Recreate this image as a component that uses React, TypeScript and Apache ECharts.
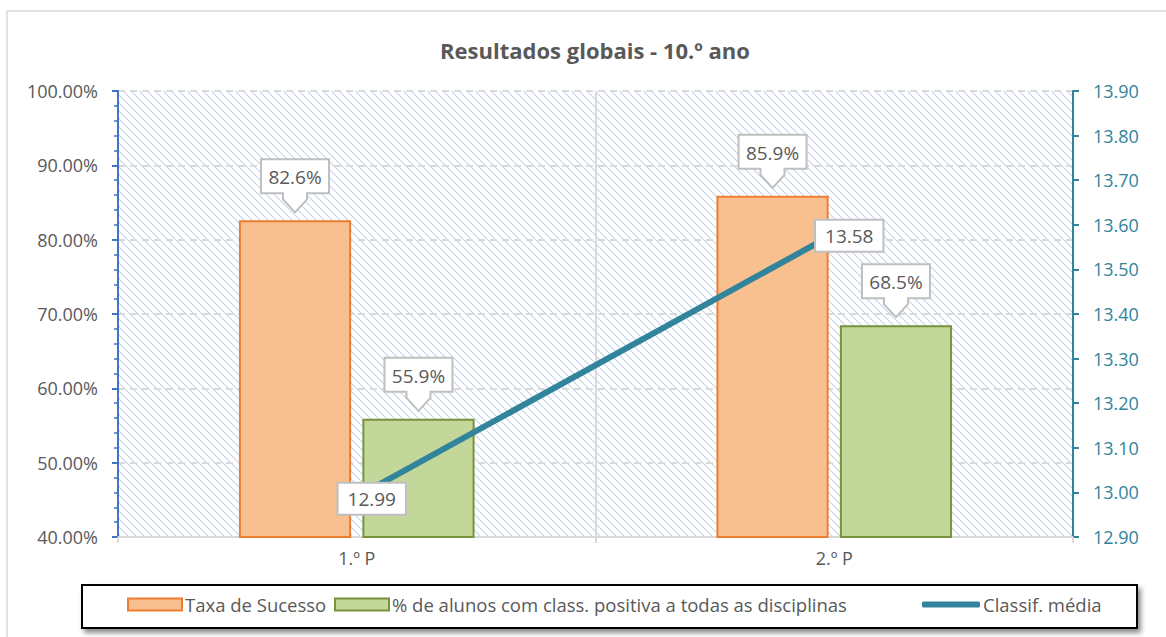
import React, { useEffect, useRef } from "react";
import * as echarts from "echarts";

const categories = ["1.º P", "2.º P"];
const successRate = [82.6, 85.9];
const positiveAll = [55.9, 68.5];
const avgGrade = [12.99, 13.58];

const seriesNames = [
  "Taxa de Sucesso",
  "% de alunos com class. positiva a todas as disciplinas",
  "Classif. média",
];

const FONT = "'Open Sans', 'Noto Sans', sans-serif";
const TXT = "#595959";
const TEAL = "#31849b";

function makeHatch(): string {
  const s = 8;
  const c = document.createElement("canvas");
  c.width = s;
  c.height = s;
  const ctx = c.getContext("2d")!;
  ctx.fillStyle = "#ffffff";
  ctx.fillRect(0, 0, s, s);
  ctx.strokeStyle = "#c3d4ee";
  ctx.lineWidth = 1.1;
  for (const x0 of [-s, 0, s]) {
    ctx.beginPath();
    ctx.moveTo(x0, 0);
    ctx.lineTo(x0 + s, s);
    ctx.stroke();
  }
  return c.toDataURL();
}

const BAR_W = 0.235;
const BAR_GAP = 0.1;
const total = 2 * BAR_W + BAR_W * BAR_GAP;
const offsets = [-total / 2 + BAR_W / 2, total / 2 - BAR_W / 2];

function calloutRender(off: number) {
  return (params: any, api: any) => {
    const p = api.coord([api.value(0), api.value(1)]);
    const band = api.size([1, 0])[0];
    const cx = p[0] + off * band;
    const tip = p[1] - 8;
    const bottom = tip - 19;
    const top = bottom - 34;
    const L = cx - 34;
    const R = cx + 34;
    const txt = api.value(1).toFixed(1) + "%";
    return {
      type: "group",
      children: [
        {
          type: "polygon",
          shape: {
            points: [
              [L, top],
              [R, top],
              [R, bottom],
              [cx + 12, bottom],
              [cx + 12, bottom + 6],
              [cx, tip],
              [cx - 12, bottom + 6],
              [cx - 12, bottom],
              [L, bottom],
            ],
          },
          style: { fill: "#ffffff", stroke: "#bfbfbf", lineWidth: 2 },
        },
        {
          type: "text",
          style: {
            text: txt,
            x: cx,
            y: (top + bottom) / 2 + 1,
            align: "center",
            verticalAlign: "middle",
            fontSize: 19,
            fontFamily: FONT,
            fill: TXT,
          },
        },
      ],
    };
  };
}

const legendBase = {
  top: 595,
  padding: 0,
  itemWidth: 54,
  itemHeight: 12,
  z: 10,
  textStyle: { fontSize: 18.5, color: TXT, fontFamily: FONT, padding: [0, 0, 0, -2] },
};

export default function App() {
  const ref = useRef<HTMLDivElement>(null);
  useEffect(() => {
    const chart = echarts.init(ref.current!, null, { renderer: "svg" });
    const hatch = makeHatch();
    const option: any = {
      animation: false,
      backgroundColor: "#ffffff",
      grid: {
        left: 118,
        right: 93,
        top: 91,
        bottom: 100,
        show: true,
        borderWidth: 0,
        backgroundColor: { image: hatch, repeat: "repeat" },
      },
      graphic: [
        {
          type: "rect",
          shape: { x: 7, y: 11, width: 1300, height: 800 },
          style: { fill: "none", stroke: "#d9d9d9", lineWidth: 1.5 },
          z: -1,
          silent: true,
        },
        {
          type: "text",
          x: 595,
          y: 50,
          style: {
            text: "Resultados globais - 10.º ano",
            align: "center",
            verticalAlign: "middle",
            fontSize: 22,
            fontWeight: "bold",
            fontFamily: FONT,
            fill: TXT,
          },
        },
        {
          type: "rect",
          shape: { x: 82, y: 585, width: 1055, height: 43 },
          style: {
            fill: "#ffffff",
            stroke: "#000000",
            lineWidth: 2,
            shadowBlur: 5,
            shadowOffsetX: 3,
            shadowOffsetY: 4,
            shadowColor: "rgba(0,0,0,0.45)",
          },
          z: 0,
        },
      ],
      legend: [
        { ...legendBase, left: 127, data: [{ name: seriesNames[0], icon: "rect" }] },
        { ...legendBase, left: 334, data: [{ name: seriesNames[1], icon: "rect" }] },
        {
          ...legendBase,
          left: 922,
          itemWidth: 58,
          itemHeight: 6,
          data: [{ name: seriesNames[2], icon: "roundRect" }],
        },
      ],
      xAxis: {
        type: "category",
        data: categories,
        boundaryGap: true,
        axisLine: { lineStyle: { color: "#d9d9d9", width: 2 } },
        axisTick: { show: true, length: 6, lineStyle: { color: "#d9d9d9", width: 2 } },
        axisLabel: { fontSize: 18, color: TXT, fontFamily: FONT, margin: 12 },
        splitLine: { show: true, lineStyle: { color: "#d9d9d9", width: 2 } },
      },
      yAxis: [
        {
          type: "value",
          min: 40,
          max: 100,
          interval: 10,
          position: "left",
          axisLine: { show: true, lineStyle: { color: "#4472c4", width: 2 } },
          axisTick: { show: true, length: 6, lineStyle: { color: "#4472c4", width: 2 } },
          minorTick: { show: true, splitNumber: 5, length: 4, lineStyle: { color: "#4472c4", width: 1.5 } },
          axisLabel: {
            fontSize: 18,
            color: TXT,
            fontFamily: FONT,
            margin: 20,
            formatter: (v: number) => v.toFixed(2) + "%",
          },
          splitLine: { show: true, lineStyle: { color: "#d9d9d9", width: 2, type: [7, 5] } },
        },
        {
          type: "value",
          min: 12.9,
          max: 13.9,
          interval: 0.1,
          position: "right",
          axisLine: { show: true, lineStyle: { color: TEAL, width: 2 } },
          axisTick: { show: true, length: 6, lineStyle: { color: TEAL, width: 2 } },
          axisLabel: {
            fontSize: 18,
            color: TEAL,
            fontFamily: FONT,
            margin: 20,
            formatter: (v: number) => v.toFixed(2),
          },
          splitLine: { show: false },
        },
      ],
      series: [
        {
          name: seriesNames[0],
          type: "bar",
          data: successRate,
          barWidth: BAR_W * 100 + "%",
          barGap: BAR_GAP * 100 + "%",
          itemStyle: { color: "#f8bf8f", borderColor: "#ed7d31", borderWidth: 2 },
          z: 2,
        },
        {
          name: seriesNames[1],
          type: "bar",
          data: positiveAll,
          barWidth: BAR_W * 100 + "%",
          barGap: BAR_GAP * 100 + "%",
          itemStyle: { color: "#c4d79b", borderColor: "#77933c", borderWidth: 2 },
          z: 2,
        },
        {
          name: seriesNames[2],
          type: "line",
          yAxisIndex: 1,
          data: avgGrade,
          symbol: "none",
          lineStyle: { color: TEAL, width: 6, cap: "round" },
          itemStyle: { color: TEAL },
          z: 4,
        },
        {
          name: "labels",
          type: "scatter",
          yAxisIndex: 1,
          data: avgGrade,
          symbolSize: 0,
          z: 6,
          silent: true,
          itemStyle: { opacity: 1 },
          label: {
            show: true,
            position: "inside",
            offset: [15, 2],
            opacity: 1,
            formatter: (p: any) => p.value.toFixed(2),
            backgroundColor: "#ffffff",
            borderColor: "#bfbfbf",
            borderWidth: 2,
            padding: [6, 9, 5, 9],
            fontSize: 19,
            color: TXT,
            fontFamily: FONT,
          },
        },
        {
          type: "custom",
          name: "c1",
          data: successRate.map((v, i) => [i, v]),
          renderItem: calloutRender(offsets[0]),
          z: 5,
          silent: true,
        },
        {
          type: "custom",
          name: "c2",
          data: positiveAll.map((v, i) => [i, v]),
          renderItem: calloutRender(offsets[1]),
          z: 5,
          silent: true,
        },
      ],
    };
    chart.setOption(option);
    return () => chart.dispose();
  }, []);
  return (
    <div
      ref={ref}
      style={{ position: "fixed", left: 0, top: 0, width: 1166, height: 637 }}
    />
  );
}
